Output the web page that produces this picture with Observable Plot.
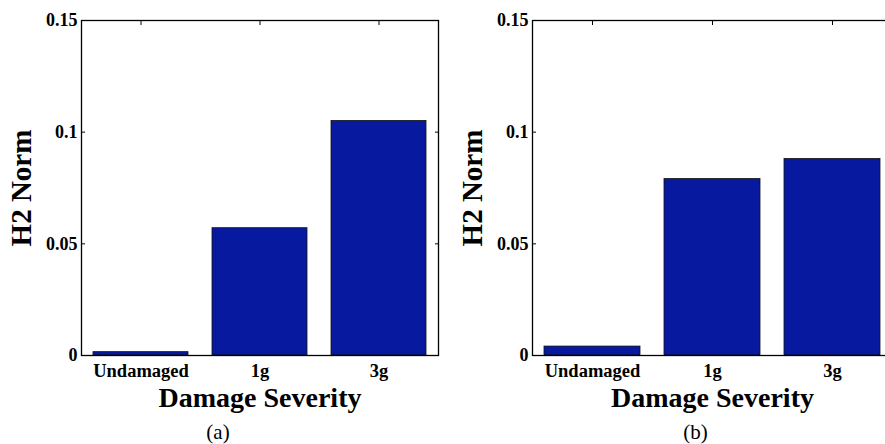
<!DOCTYPE html>
<html>
<head>
<meta charset="utf-8">
<script src="https://cdn.jsdelivr.net/npm/d3@7"></script>
<script src="https://cdn.jsdelivr.net/npm/@observablehq/plot@0.6"></script>
<style>
  html, body { margin: 0; padding: 0; background: #fff; overflow: hidden; }
  #wrap { position: relative; width: 885px; height: 444px; overflow: hidden; }
  .panel { position: absolute; top: 0; }
  .panel svg { max-width: none !important; }
</style>
</head>
<body>
<div id="wrap"></div>
<script>
const categories = ["Undamaged", "1g", "3g"];
const valuesA = [0.0015, 0.057, 0.105];
const valuesB = [0.004, 0.079, 0.088];
const yTicks = [0, 0.05, 0.1, 0.15];
const yTickLabels = ["0", "0.05", "0.1", "0.15"];
const yLabel = "H2 Norm";
const xLabel = "Damage Severity";
const captions = ["(a)", "(b)"];

const barColor = "#06199f";
const font = "'Liberation Serif', 'Times New Roman', serif";

function panel(values, caption, layout) {
  const data = categories.map((c, i) => ({category: c, value: values[i]}));
  return Plot.plot({
    width: layout.width,
    height: 444,
    marginLeft: layout.marginLeft,
    marginRight: layout.marginRight,
    marginTop: 20,
    marginBottom: 89,
    style: {fontFamily: font, background: "white", color: "black", overflow: "visible", maxWidth: "none"},
    x: {domain: categories, paddingInner: 0.2, paddingOuter: 0.1, axis: null},
    y: {domain: [0, 0.15], axis: null},
    marks: [
      Plot.barY(data, {x: "category", y: "value", fill: barColor, stroke: "#111", strokeWidth: 0.8}),
      Plot.frame({stroke: "black", strokeWidth: 1.3}),
      // tick labels
      Plot.axisY(yTicks, {anchor: "left", tickSize: 0, tickPadding: 4, tickFormat: (d) => yTickLabels[yTicks.indexOf(d)], fontSize: 18, fontWeight: "bold", label: null}),
      Plot.axisX(categories, {anchor: "bottom", tickSize: 0, tickPadding: 8, fontSize: 18.5, fontWeight: "bold", label: null}),
      // inward ticks
      Plot.axisY(yTicks, {anchor: "left", tickSize: -4, tickFormat: () => "", label: null}),
      Plot.axisY(yTicks, {anchor: "right", tickSize: -4, tickFormat: () => "", label: null}),
      Plot.axisX(categories, {anchor: "top", tickSize: -4, tickFormat: () => "", label: null}),
      // titles
      Plot.text([yLabel], {frameAnchor: "left", dx: -60, rotate: -90, textAnchor: "middle", lineAnchor: "middle", fontSize: 29, fontWeight: "bold"}),
      Plot.text([xLabel], {frameAnchor: "bottom", dy: 43, textAnchor: "middle", lineAnchor: "middle", fontSize: 28, fontWeight: "bold"}),
      Plot.text([caption], {frameAnchor: "bottom", dy: 77, dx: layout.captionDx, textAnchor: "middle", lineAnchor: "middle", fontSize: 21})
    ]
  });
}

const wrap = document.getElementById("wrap");
const layouts = [
  {left: 0, width: 442, marginLeft: 81, marginRight: 4, captionDx: -42},
  {left: 450, width: 443, marginLeft: 82, marginRight: 1, captionDx: -17}
];
[valuesA, valuesB].forEach((vals, i) => {
  const div = document.createElement("div");
  div.className = "panel";
  div.style.left = layouts[i].left + "px";
  div.style.width = layouts[i].width + "px";
  div.appendChild(panel(vals, captions[i], layouts[i]));
  wrap.appendChild(div);
});
</script>
</body>
</html>
